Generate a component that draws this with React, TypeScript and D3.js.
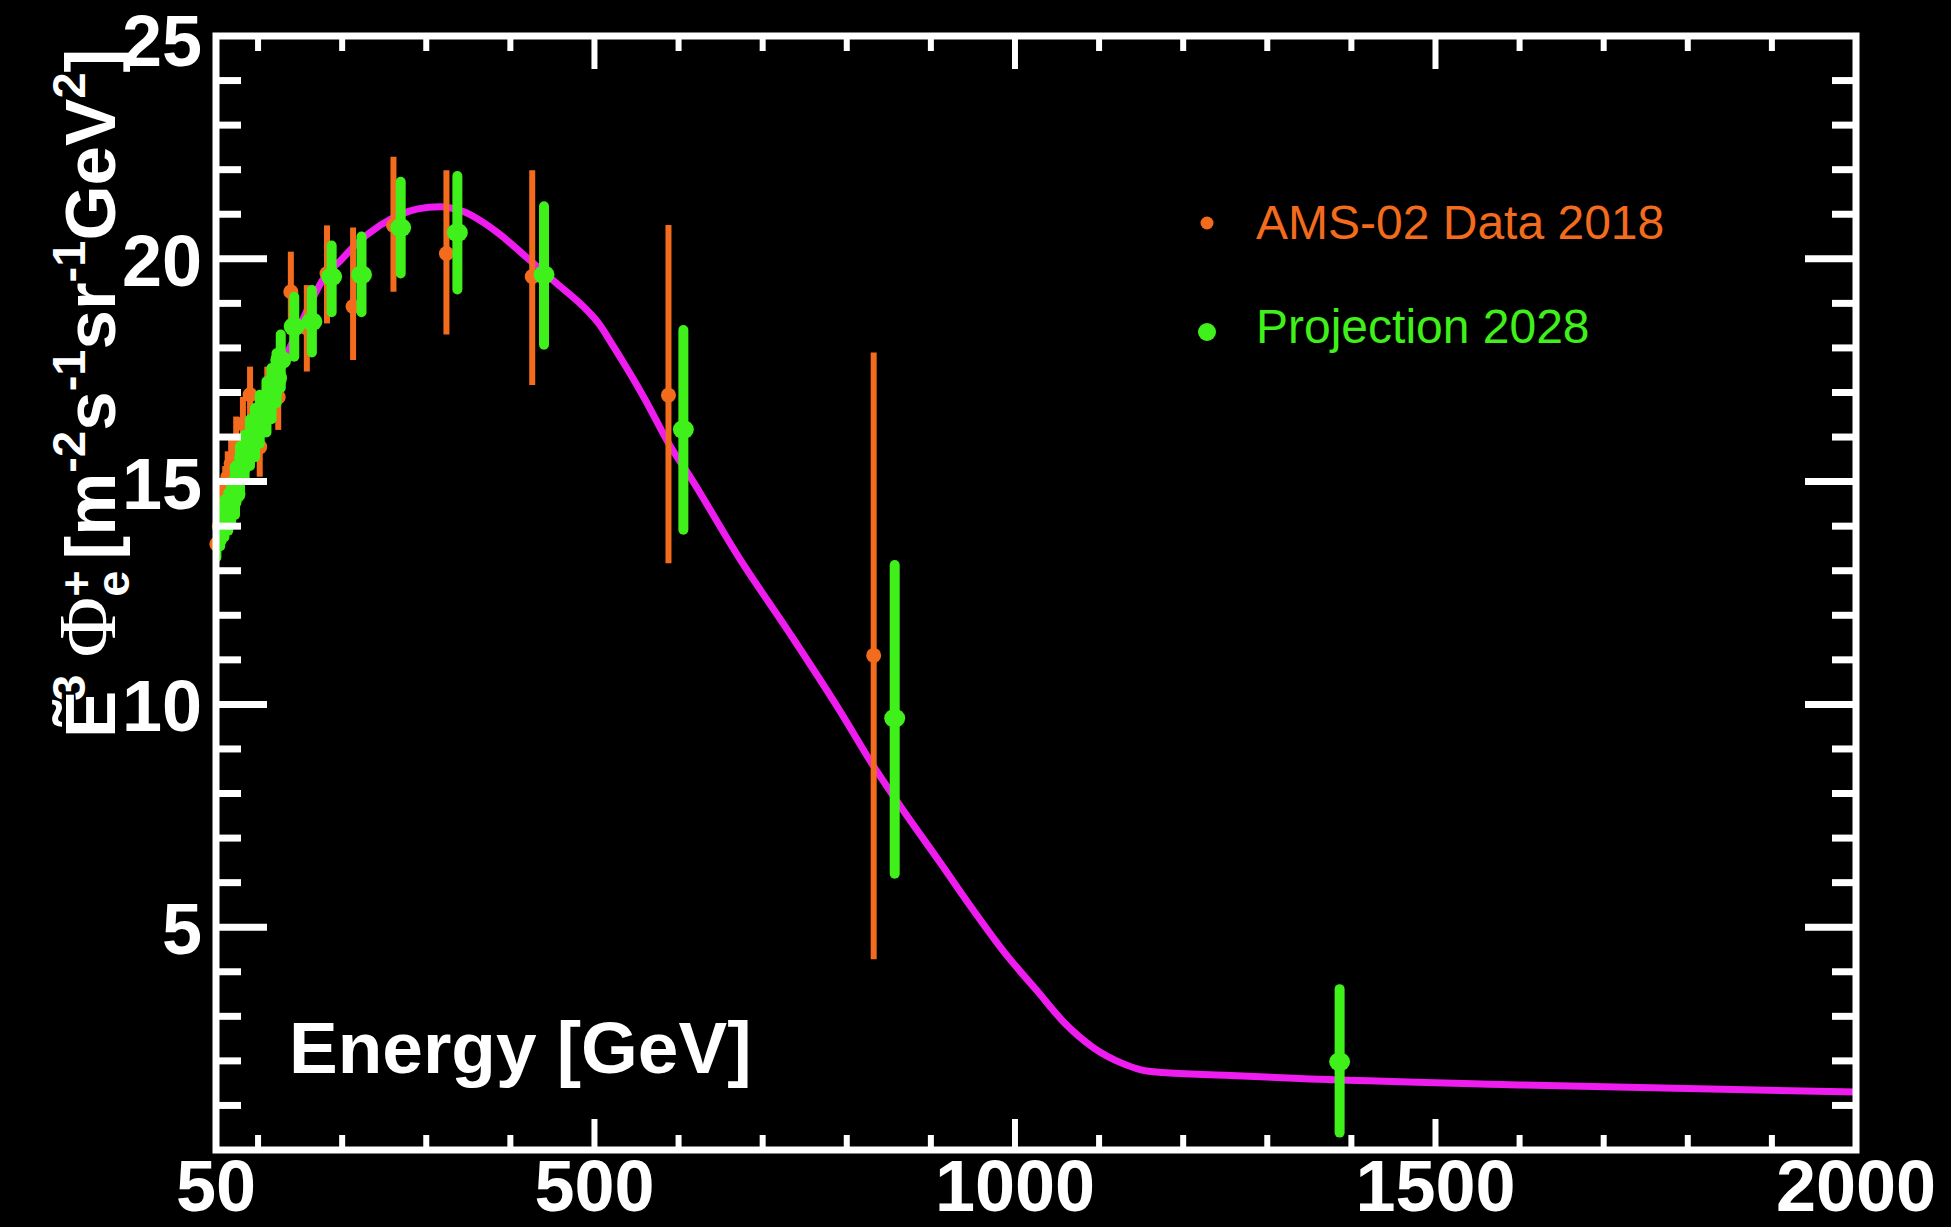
import React from "react";
import * as d3 from "d3";

const WIDTH = 1951;
const HEIGHT = 1227;

// Axis ticks
const xTickLabels = [50, 500, 1000, 1500, 2000];
const xMinorTicks = [100, 200, 300, 400, 600, 700, 800, 900, 1100, 1200, 1300, 1400, 1600, 1700, 1800, 1900];
const xMajorTicks = [500, 1000, 1500];
const yTickLabels = [5, 10, 15, 20, 25];
const yMinorTicks = [1, 2, 3, 4, 6, 7, 8, 9, 11, 12, 13, 14, 16, 17, 18, 19, 21, 22, 23, 24];
const yMajorTicks = [5, 10, 15, 20];

// Model curve: energy [GeV] and E^3-weighted positron flux
const modelEnergy = [50, 60, 70, 80, 90, 100, 115, 132, 156, 176, 200, 215, 245, 270, 290, 316, 344, 384, 423, 455, 491, 505, 522, 560, 590, 614, 673, 732, 792, 832, 857, 911, 946, 991, 1025, 1059, 1093, 1127, 1150, 1175, 1250, 1332, 1605, 2000];
const modelFlux = [13.75, 14.25, 14.8, 15.35, 15.85, 16.3, 16.95, 17.75, 18.75, 19.5, 20.0, 20.3, 20.75, 21.0, 21.12, 21.17, 21.06, 20.6, 19.97, 19.45, 18.85, 18.55, 18.05, 16.85, 15.8, 15.1, 13.26, 11.6, 9.85, 8.61, 7.9, 6.45, 5.5, 4.35, 3.6, 2.85, 2.3, 1.95, 1.8, 1.74, 1.68, 1.61, 1.46, 1.3];

// AMS-02 Data 2018: energy, value, lower and upper error bound
const amsEnergy = [51, 54, 57, 61, 64, 68, 74, 82, 90.5, 102, 111, 124, 139, 158, 182, 213, 261, 324, 426, 588, 832];
const amsFlux = [13.6, 14.0, 14.4, 14.9, 15.1, 15.4, 15.9, 16.3, 16.95, 15.78, 16.95, 16.9, 19.26, 18.45, 19.67, 18.93, 20.75, 20.12, 19.6, 16.94, 11.1];
const amsLow = [13.35, 13.6, 13.95, 14.4, 14.55, 14.8, 15.3, 15.6, 16.3, 15.11, 16.3, 16.16, 18.3, 17.47, 18.55, 17.73, 19.26, 18.3, 17.17, 13.17, 4.28];
const amsHigh = [13.9, 14.4, 14.85, 15.35, 15.68, 15.95, 16.46, 16.9, 17.58, 16.45, 17.58, 17.65, 20.16, 19.41, 20.75, 20.7, 22.29, 21.99, 21.99, 20.76, 17.9];

// Projection 2028: energy, value, lower and upper error bound
const projEnergy = [50.5, 55, 60, 64.6, 68, 72.6, 78.5, 84, 90.4, 96.4, 102, 110, 116, 122, 127, 143, 164, 187.5, 223, 269.6, 337, 440, 605.7, 857, 1386];
const projFlux = [13.7, 13.95, 14.2, 14.3, 14.55, 14.72, 15.3, 15.55, 15.86, 16.09, 16.38, 16.68, 16.98, 17.32, 17.73, 18.48, 18.59, 19.6, 19.64, 20.7, 20.59, 19.64, 16.17, 9.69, 1.98];
const projLow = [13.3, 13.55, 13.75, 13.9, 14.1, 14.25, 14.8, 15.05, 15.35, 15.55, 15.85, 16.1, 16.4, 16.76, 17.1, 17.8, 17.9, 18.8, 18.8, 19.67, 19.31, 18.07, 13.92, 6.2, 0.39];
const projHigh = [14.1, 14.35, 14.6, 14.75, 15.0, 15.2, 15.8, 16.05, 16.4, 16.65, 16.95, 17.25, 17.55, 17.88, 18.3, 19.15, 19.3, 20.3, 20.5, 21.73, 21.86, 21.18, 18.4, 13.13, 3.61];

const ORANGE = "#f36b1c";
const GREEN = "#3ff01a";
const MAGENTA = "#ee1cee";
const SANS = "'Liberation Sans', Arial, Helvetica, sans-serif";
const SERIF = "'Liberation Serif', 'DejaVu Serif', serif";

const plot = { left: 216, right: 1856, top: 36, bottom: 1150 };

export default function App() {
  const x = d3.scaleLinear().domain([50, 2000]).range([plot.left, plot.right]);
  const y = d3.scaleLinear().domain([0, 25]).range([plot.bottom, plot.top]);

  const model = modelEnergy.map((e, i) => [e, modelFlux[i]] as [number, number]);
  const line = d3
    .line<[number, number]>()
    .x((d) => x(d[0]))
    .y((d) => y(d[1]))
    .curve(d3.curveMonotoneX);

  const sup = 47;
  const up = -30;

  return (
    <div style={{ position: "fixed", left: 0, top: 0, width: WIDTH, height: HEIGHT, background: "#000" }}>
      <svg width={WIDTH} height={HEIGHT} viewBox={`0 0 ${WIDTH} ${HEIGHT}`} style={{ display: "block" }}>
        <rect x={0} y={0} width={WIDTH} height={HEIGHT} fill="#000" />
        <defs>
          <clipPath id="plot-area">
            <rect x={plot.left} y={plot.top} width={plot.right - plot.left} height={plot.bottom - plot.top} />
          </clipPath>
        </defs>

        {/* model curve */}
        <path d={line(model) || ""} fill="none" stroke={MAGENTA} strokeWidth={7} clipPath="url(#plot-area)" />

        {/* AMS-02 2018 data */}
        <g>
          {amsEnergy.map((e, i) => (
            <line key={`ab${i}`} x1={x(e)} x2={x(e)} y1={y(amsLow[i])} y2={y(amsHigh[i])} stroke={ORANGE} strokeWidth={6} />
          ))}
          {amsEnergy.map((e, i) => (
            <circle key={`am${i}`} cx={x(e)} cy={y(amsFlux[i])} r={7.5} fill={ORANGE} />
          ))}
        </g>

        {/* Projection 2028 */}
        <g clipPath="url(#plot-area)">
          {projEnergy.map((e, i) => (
            <line key={`pb${i}`} x1={x(e)} x2={x(e)} y1={y(projLow[i])} y2={y(projHigh[i])} stroke={GREEN} strokeWidth={10} strokeLinecap="round" />
          ))}
          {projEnergy.map((e, i) => (
            <ellipse key={`pm${i}`} cx={x(e)} cy={y(projFlux[i])} rx={10.5} ry={9.5} fill={GREEN} />
          ))}
        </g>

        {/* frame */}
        <rect x={plot.left} y={plot.top} width={plot.right - plot.left} height={plot.bottom - plot.top} fill="none" stroke="#fff" strokeWidth={7} />

        {/* x ticks, bottom and top */}
        <g stroke="#fff" strokeWidth={6}>
          {xMinorTicks.map((t) => (
            <g key={`xm${t}`}>
              <line x1={x(t)} x2={x(t)} y1={plot.bottom} y2={plot.bottom - 15} />
              <line x1={x(t)} x2={x(t)} y1={plot.top} y2={plot.top + 15} />
            </g>
          ))}
          {xMajorTicks.map((t) => (
            <g key={`xM${t}`}>
              <line x1={x(t)} x2={x(t)} y1={plot.bottom} y2={plot.bottom - 31} />
              <line x1={x(t)} x2={x(t)} y1={plot.top} y2={plot.top + 33} />
            </g>
          ))}
        </g>

        {/* y ticks, left and right */}
        <g stroke="#fff" strokeWidth={7}>
          {yMinorTicks.map((t) => (
            <g key={`ym${t}`}>
              <line x1={plot.left} x2={plot.left + 25} y1={y(t)} y2={y(t)} />
              <line x1={plot.right} x2={plot.right - 24} y1={y(t)} y2={y(t)} />
            </g>
          ))}
          {yMajorTicks.map((t) => (
            <g key={`yM${t}`}>
              <line x1={plot.left} x2={plot.left + 51} y1={y(t)} y2={y(t)} />
              <line x1={plot.right} x2={plot.right - 51} y1={y(t)} y2={y(t)} />
            </g>
          ))}
        </g>

        {/* tick labels */}
        <g fill="#fff" fontFamily={SANS} fontWeight="bold" fontSize={72}>
          {xTickLabels.map((t) => (
            <text key={`xl${t}`} x={x(t)} y={1211} textAnchor="middle">
              {t}
            </text>
          ))}
          {yTickLabels.map((t) => (
            <text key={`yl${t}`} x={202} y={Math.max(y(t) + 27, 66)} textAnchor="end">
              {t}
            </text>
          ))}
        </g>

        {/* x axis title inside the frame */}
        <text x={289} y={1073} fill="#fff" fontFamily={SANS} fontWeight="bold" fontSize={73}>
          Energy [GeV]
        </text>

        {/* y axis title */}
        <text transform="translate(115,738) rotate(-90)" fill="#fff" fontFamily={SANS} fontWeight="bold" fontSize={71}>
          <tspan>Ẽ</tspan>
          <tspan fontSize={sup} dy={up} dx={-10}>3</tspan>
          <tspan fontFamily={SERIF} fontWeight="normal" fontSize={83} dy={-up} dx={17}>Φ</tspan>
          <tspan fontSize={sup} dy={14}>e</tspan>
          <tspan fontSize={45} dy={-37} dx={-26}>+</tspan>
          <tspan dy={23} dx={11}>[m</tspan>
          <tspan fontSize={sup} dy={up}>-2</tspan>
          <tspan dy={-up}>s</tspan>
          <tspan fontSize={sup} dy={up}>-1</tspan>
          <tspan dy={-up}>sr</tspan>
          <tspan fontSize={sup} dy={up}>-1</tspan>
          <tspan dy={-up}>GeV</tspan>
          <tspan fontSize={sup} dy={up}>2</tspan>
          <tspan dy={-up}>]</tspan>
        </text>

        {/* legend */}
        <g fontFamily={SANS} fontSize={48}>
          <circle cx={1207} cy={223} r={6.5} fill={ORANGE} />
          <text x={1256} y={239} fill={ORANGE}>AMS-02 Data 2018</text>
          <circle cx={1207} cy={332} r={9} fill={GREEN} />
          <text x={1256} y={343} fill={GREEN}>Projection 2028</text>
        </g>
      </svg>
    </div>
  );
}
